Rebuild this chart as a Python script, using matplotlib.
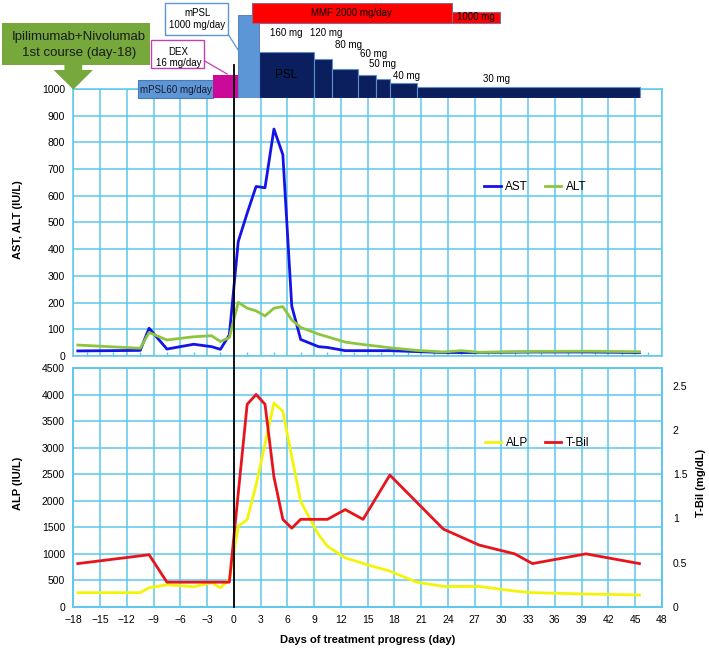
import matplotlib
matplotlib.use('Agg')
import matplotlib.pyplot as plt
from matplotlib.patches import Rectangle, Polygon
from matplotlib.lines import Line2D
from matplotlib.transforms import blended_transform_factory

plt.rcParams['font.family'] = ['Liberation Sans', 'DejaVu Sans']

# liver tests (day 0 = start of steroid pulse)
ast_days = [-17.5, -10.5, -9.5, -7.5, -4.5, -2.5, -1.5, -0.5, 0.5, 1.5, 2.5, 3.5, 4.5,
            5.5, 6.5, 7.5, 9.5, 10.5, 12.5, 17.5, 23.5, 27.5, 33.5, 39.5, 45.5]
ast = [19, 21, 104, 26, 44, 35, 25, 79, 429, 535, 635, 630, 850,
       754, 187, 62, 35, 32, 20, 20, 13, 13, 15, 15, 13]

alt_days = [-17.5, -10.5, -9.5, -7.5, -4.5, -2.5, -1.5, -0.5, 0.5, 1.5, 2.5, 3.5, 4.5, 5.5,
            6.5, 7.5, 9.5, 12.5, 14.5, 17.5, 20.5, 23.5, 25.5, 27.5, 33.5, 39.5, 45.5]
alt = [41, 29, 88, 60, 72, 76, 54, 69, 201, 179, 169, 150, 179, 185,
       135, 107, 82, 52, 43, 31, 21, 15, 20, 14, 17, 18, 16]

alp_days = [-17.5, -10.5, -9.5, -7.5, -4.5, -2.5, -1.5, -0.5, 0.5, 1.5, 2.5, 4.5, 5.5, 7.5,
            9.5, 10.5, 12.5, 15.5, 17.5, 20.5, 23.5, 27.5, 31.5, 33.5, 39.5, 45.5]
alp = [269, 269, 362, 419, 381, 456, 362, 519, 1519, 1644, 2300, 3840, 3684, 1987,
       1362, 1144, 925, 769, 675, 468, 387, 387, 300, 269, 244, 225]

tbil_days = [-17.5, -9.5, -7.5, -0.5, 1.5, 2.5, 3.5, 4.5, 5.5, 6.5, 7.5, 10.5, 12.5, 14.5,
             17.5, 23.5, 27.5, 31.5, 33.5, 39.5, 45.5]
tbil = [0.49, 0.59, 0.28, 0.28, 2.29, 2.40, 2.29, 1.47, 0.99, 0.89, 0.99, 0.99, 1.10, 0.99,
        1.49, 0.88, 0.70, 0.60, 0.49, 0.60, 0.49]

# treatment schedule (start day, end day)
mpsl60_days = (-10.8, -2.3)
dex_days = (-2.3, 0.45)
mpsl1000_days = (0.45, 2.8)
psl_start = [2.8, 9.0, 11.0, 13.9, 16.0, 17.5, 20.5]
psl_end = [9.0, 11.0, 13.9, 16.0, 17.5, 20.5, 45.6]
psl_dose = [160, 120, 80, 60, 50, 40, 30]
mmf_start = [2.07, 24.45]
mmf_end = [24.45, 29.9]
mmf_dose = [2000, 1000]

x_ticks = list(range(-18, 49, 3))

grid_c = '#5cc8ec'

fig = plt.figure(figsize=(7.09, 6.5), dpi=100)
L, W = 0.1034, 0.830
ax1 = fig.add_axes([L, 0.4523, W, 0.4108])
ax2 = fig.add_axes([L, 0.0662, W, 0.3677])
ax2r = ax2.twinx()


def style(ax):
    ax.set_xlim(-18, 48)
    ax.set_xticks(x_ticks)
    ax.grid(True, color=grid_c, lw=1.1)
    ax.set_axisbelow(True)
    for s in ax.spines.values():
        s.set_color(grid_c)
        s.set_linewidth(1.1)
    ax.tick_params(length=0, labelsize=7.5, pad=6)


style(ax1)
style(ax2)
ax1.set_ylim(0, 1000)
ax1.set_yticks(range(0, 1001, 100))
ax1.tick_params(labelbottom=False)
ax1.set_xticks([x + 1.5 for x in range(-18, 48, 3)], minor=True)
ax1.tick_params(which='minor', direction='in', length=3, color=grid_c, width=1)

ax2.set_ylim(0, 4500)
ax2.set_yticks(range(0, 4501, 500))
ax2.set_xticklabels([str(t).replace('-', '\u2212') for t in x_ticks])
ax2r.set_ylim(0, 2.70)
ax2r.set_yticks([0, 0.5, 1, 1.5, 2, 2.5])
ax2r.set_yticklabels(['0', '0.5', '1', '1.5', '2', '2.5'])
ax2r.tick_params(length=0, labelsize=7.5, pad=8)
for s in ax2r.spines.values():
    s.set_color(grid_c)
    s.set_linewidth(1.1)

ax1.plot(ast_days, ast, color='#1414e6', lw=2, label='AST')
ax1.plot(alt_days, alt, color='#8cc63e', lw=2, label='ALT')
ax1.legend(loc='center', bbox_to_anchor=(0.785, 0.633), ncol=2, frameon=False,
           fontsize=8.5, handlelength=1.4, handletextpad=0.4, columnspacing=1.4)

l_alp, = ax2.plot(alp_days, alp, color='#f4f40a', lw=2, label='ALP')
l_tb, = ax2r.plot(tbil_days, tbil, color='#e8141c', lw=2, label='T-Bil')
ax2r.legend(handles=[l_alp, l_tb], loc='center', bbox_to_anchor=(0.788, 0.684), ncol=2,
            frameon=False, fontsize=8.5, handlelength=1.4, handletextpad=0.4,
            columnspacing=1.4)

fig.text(0.025, 0.662, 'AST, ALT (IU/L)', rotation=90, ha='center', va='center',
         fontsize=8, fontweight='bold')
fig.text(0.025, 0.257, 'ALP (IU/L)', rotation=90, ha='center', va='center',
         fontsize=8, fontweight='bold')
fig.text(0.989, 0.257, 'T-Bil (mg/dL)', rotation=90, ha='center', va='center',
         fontsize=8, fontweight='bold')
fig.text(0.518, 0.0154, 'Days of treatment progress (day)', ha='center', va='center',
         fontsize=8, fontweight='bold')

# treatment bars above the chart (y in pixel-like units from the top)
axd = fig.add_axes([L, 0.8492, W, 0.1508], zorder=1)
axd.set_xlim(-18, 48)
axd.set_ylim(98, 0)
axd.axis('off')
base = 98

light_blue = '#5d96d6'
navy = '#0b1f5e'
axd.bar(mpsl60_days[0], 18, width=mpsl60_days[1] - mpsl60_days[0], bottom=base - 18,
        align='edge', color=light_blue, edgecolor='#4a78b8', lw=0.8, clip_on=False)
axd.text(sum(mpsl60_days) / 2 + 0.05, 90, 'mPSL60 mg/day', ha='center', va='center',
         fontsize=7, color='#1a1a2a')
axd.bar(dex_days[0], 23, width=dex_days[1] - dex_days[0], bottom=base - 23,
        align='edge', color='#cc0a9a', lw=0)
axd.bar(mpsl1000_days[0], 83, width=mpsl1000_days[1] - mpsl1000_days[0], bottom=base - 83,
        align='edge', color=light_blue, edgecolor='#4a78b8', lw=0.6)

psl_h = [46.3, 38.7, 28.7, 22.7, 19.0, 15.3, 10.7]
axd.bar(psl_start, psl_h, width=[e - s for s, e in zip(psl_start, psl_end)],
        bottom=[base - h for h in psl_h], align='edge', color=navy,
        edgecolor='#5d8fd0', lw=0.8)
axd.text(5.9, 75, 'PSL', ha='center', va='center', fontsize=8.5, color='black')
psl_lab_x = [5.9, 10.4, 12.9, 15.7, 16.7, 19.4, 29.5]
psl_lab_y = [33, 33, 45, 54, 64, 76, 79]
for d, x, y in zip(psl_dose, psl_lab_x, psl_lab_y):
    axd.text(x, y, f'{d} mg', ha='center', va='center', fontsize=7)

mmf_top = [3.3, 11.7]
for s, e, t in zip(mmf_start, mmf_end, mmf_top):
    axd.add_patch(Rectangle((s, t), e - s, 22.7 - t, facecolor='#ff0000',
                            edgecolor='#8a6a8a', lw=0.8))
axd.text(13.2, 12.7, f'MMF {mmf_dose[0]} mg/day', ha='center', va='center', fontsize=7)
axd.text(27.2, 16.7, f'{mmf_dose[1]} mg', ha='center', va='center', fontsize=7)

# annotation boxes
axd.add_patch(Rectangle((-7.68, 3), 7.08, 32, facecolor='white', edgecolor=light_blue,
                        lw=1.0, clip_on=False))
axd.text(-4.1, 13.3, 'mPSL', ha='center', va='center', fontsize=7)
axd.text(-4.1, 25, '1000 mg/day', ha='center', va='center', fontsize=7)
axd.plot([-0.63, 0.53], [34.3, 50.7], color=light_blue, lw=0.9, clip_on=False)

axd.add_patch(Rectangle((-9.29, 40), 5.99, 28, facecolor='white', edgecolor='#c040b0',
                        lw=1.0, clip_on=False))
axd.text(-6.2, 51.7, 'DEX', ha='center', va='center', fontsize=7)
axd.text(-6.2, 62.7, '16 mg/day', ha='center', va='center', fontsize=7)
axd.plot([-3.26, -0.74], [61, 74], color='#c040b0', lw=0.9, clip_on=False)

green = '#76a83c'
axd.add_patch(Rectangle((-26.05, 22.7), 16.7, 42.3, facecolor=green, lw=0, clip_on=False))
axd.add_patch(Polygon([(-19.0, 64), (-17.0, 64), (-17.0, 70), (-15.8, 70), (-18, 89.5),
                       (-20.2, 70), (-19.0, 70)], closed=True, facecolor=green, lw=0,
                      clip_on=False))
axd.text(-17.4, 36.7, 'Ipilimumab+Nivolumab', ha='center', va='center', fontsize=9.5,
         color='#1a1a1a', clip_on=False)
axd.text(-17.4, 52.7, '1st course (day-18)', ha='center', va='center', fontsize=9.5,
         color='#1a1a1a', clip_on=False)

# day 0 marker through both panels
tr = blended_transform_factory(ax1.transData, fig.transFigure)
fig.add_artist(Line2D([0, 0], [0.0662, 0.9], transform=tr, color='black', lw=1.3, zorder=5))

plt.savefig('out.png', dpi=100)
